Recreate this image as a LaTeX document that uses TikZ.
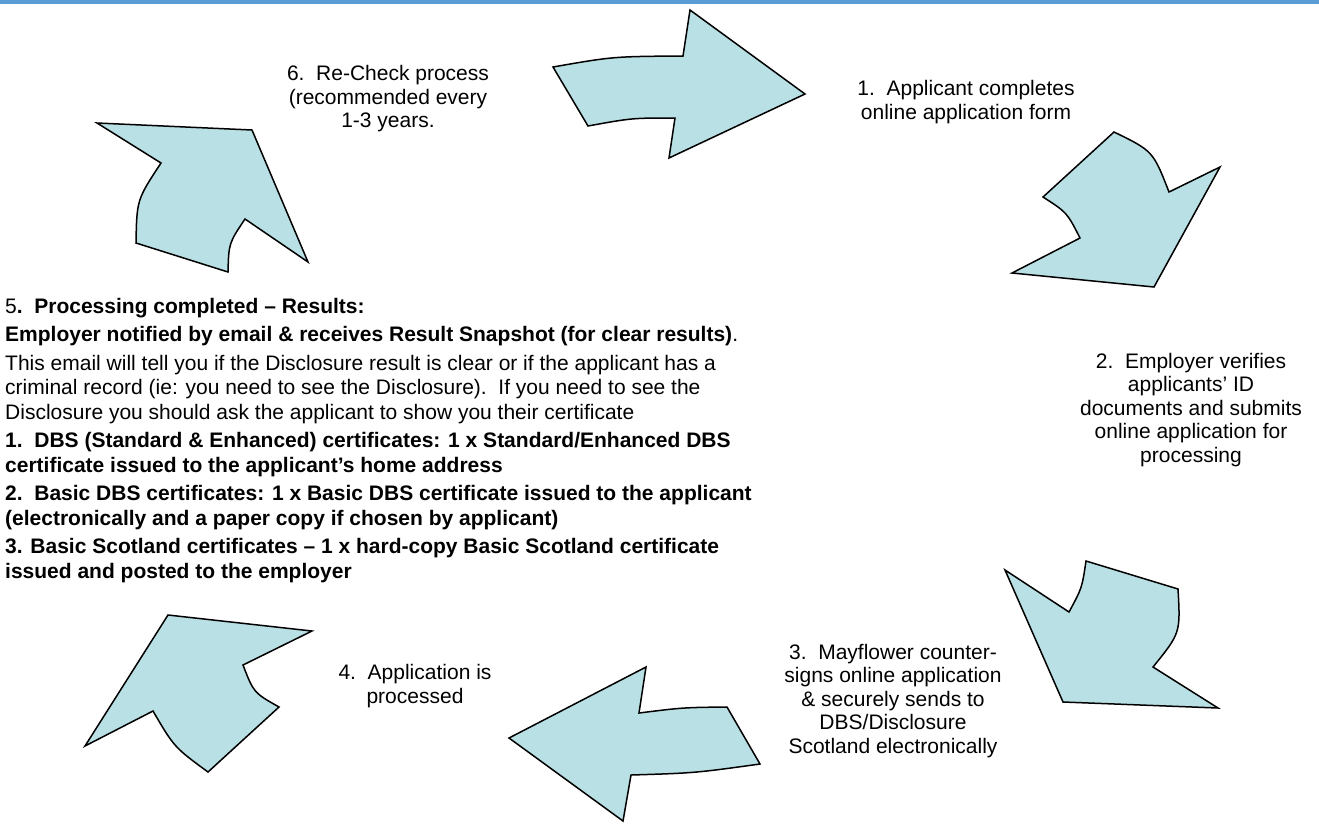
\documentclass[tikz,border=0pt]{standalone}
\usepackage{fontspec}
\setmainfont{Liberation Sans}
\definecolor{arrowfill}{RGB}{185,224,228}
\definecolor{topbar}{RGB}{91,155,213}

\begin{document}
\begin{tikzpicture}[x=1pt,y=-1pt,
  bigarrow/.style={draw=black,fill=arrowfill,line width=1.5pt,line join=miter},
  steplabel/.style={align=center,inner sep=0pt,font=\fontsize{21}{23.5}\selectfont}]
  \useasboundingbox (0,0) rectangle (1319,823);
  \fill[topbar] (0,0) rectangle (1319,3.5);

  \draw[bigarrow] (553,67) .. controls (613,56.5) .. (683,56) -- (690,10) -- (805,94)
    -- (669,158) -- (675,118) .. controls (632,118) .. (588,126) -- cycle;
  \draw[bigarrow] (1114,132) .. controls (1153,151) .. (1169,192) -- (1220,167)
    -- (1154,287) -- (1012,273) -- (1080,238) .. controls (1067,212.5) .. (1043,197) -- cycle;
  \draw[bigarrow] (1005,570) -- (1069,612) .. controls (1082,588) .. (1086,561)
    -- (1178,589) .. controls (1180.5,633) .. (1153,667) -- (1218,708) -- (1063,702) -- cycle;
  \draw[bigarrow] (509,738) -- (646,667) -- (639,713) .. controls (683,707.5) .. (727,707)
    -- (760,764) .. controls (695,773) .. (631,775) -- (623,821) -- cycle;
  \draw[bigarrow] (168,615) -- (312,631) -- (243,665) .. controls (253.7,692.7) .. (279,707)
    -- (208,772) .. controls (174.2,747.2) .. (153,711) -- (85,746) -- cycle;
  \draw[bigarrow] (97,123) -- (252,130) -- (308,262) -- (245,219) .. controls (228.8,243.2) .. (228,272)
    -- (136,243) .. controls (136.8,199.7) .. (161,163) -- cycle;

  \node[steplabel] (apply) at (966,102) {1.\ \ Applicant completes\\online application form};
  \node[steplabel] (verify) at (1191,410) {2.\ \ Employer verifies\\applicants’ ID\\documents and submits\\online application for\\processing};
  \node[steplabel] (countersign) at (893,701) {3.\ \ Mayflower counter-\\signs online application\\\& securely sends to\\DBS/Disclosure\\Scotland electronically};
  \node[steplabel] (processed) at (415,686) {4.\ \ Application is\\processed};
  \node[steplabel] (recheck) at (388,99) {6.\ \ Re-Check process\\(recommended every\\1-3 years.};

  \node[anchor=north west,inner sep=0pt,align=left,
    font=\fontsize{21}{24.5}\selectfont] (results) at (5,298) {%
    5\textbf{.\ \ Processing completed – Results:}\\[4pt]
    \textbf{Employer notified by email \& receives Result Snapshot (for clear results)}.\\[4pt]
    This email will tell you if the Disclosure result is clear or if the applicant has a\\
    criminal record (ie: you need to see the Disclosure).\ \ If you need to see the\\
    Disclosure you should ask the applicant to show you their certificate\\[4pt]
    \textbf{1.\ \ DBS (Standard \& Enhanced) certificates: 1 x Standard/Enhanced DBS}\\
    \textbf{certificate issued to the applicant’s home address}\\[4pt]
    \textbf{2.\ \ Basic DBS certificates: 1 x Basic DBS certificate issued to the applicant}\\
    \textbf{(electronically and a paper copy if chosen by applicant)}\\[4pt]
    \textbf{3. Basic Scotland certificates – 1 x hard-copy Basic Scotland certificate}\\
    \textbf{issued and posted to the employer}};
\end{tikzpicture}
\end{document}
